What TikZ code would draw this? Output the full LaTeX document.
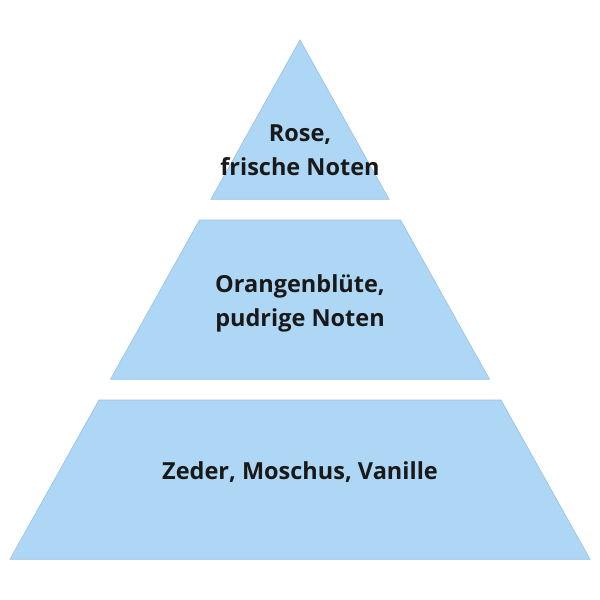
\documentclass[tikz,border=0pt]{standalone}
\usepackage{fontspec}
\setmainfont{Open Sans}
\begin{document}
\begin{tikzpicture}[x=1pt,y=-1pt,
  layer/.style={fill=pyrfill,draw=pyrline,line width=0.7pt,line join=miter},
  lbl/.style={font=\fontsize{23.5}{33.3}\selectfont\bfseries,text=black!90,align=center,inner sep=0pt}]
\definecolor{pyrfill}{HTML}{AED7F6}
\definecolor{pyrline}{HTML}{9CC3E5}
\useasboundingbox[fill=white] (0,0) rectangle (600,600);
\draw[layer] (300,40) -- (389,199.3) -- (211,199.3) -- cycle;
\draw[layer] (199.5,220) -- (400.5,220) -- (489.5,379.3) -- (110.5,379.3) -- cycle;
\draw[layer] (99,400) -- (501,400) -- (590,559.3) -- (10,559.3) -- cycle;
\node[lbl,anchor=base] (top) at (300,175) {Rose,\\frische Noten};
\node[lbl,anchor=base] (mid) at (300,326) {Orangenblüte,\\pudrige Noten};
\node[lbl,anchor=base] (bot) at (300,479) {Zeder, Moschus, Vanille};
\end{tikzpicture}
\end{document}
